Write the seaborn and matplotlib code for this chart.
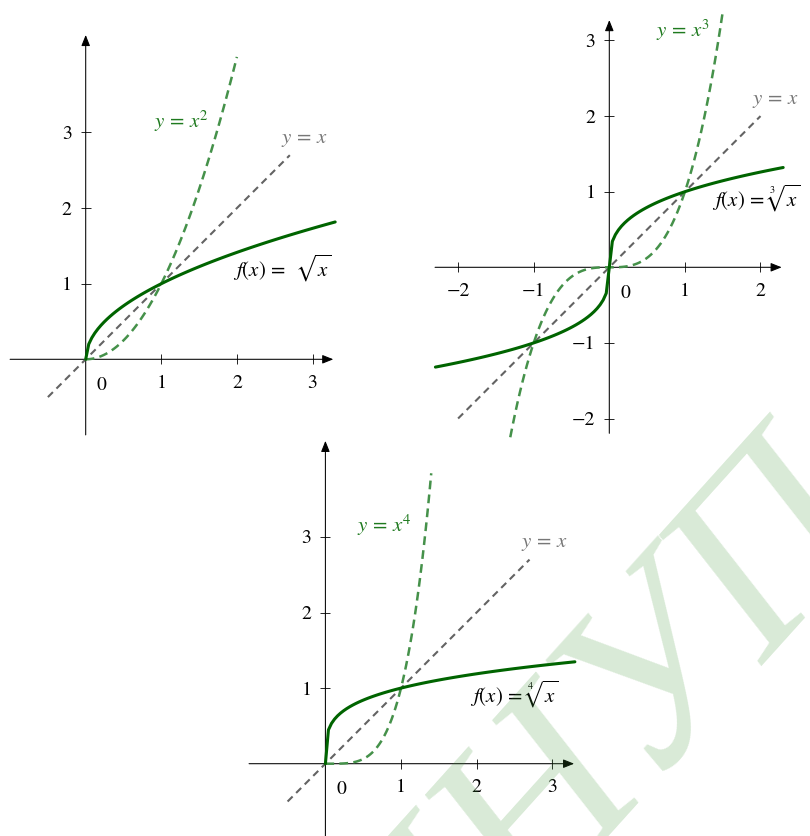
import numpy as np
import matplotlib
matplotlib.use("Agg")
import matplotlib.pyplot as plt
import seaborn as sns

# ---------------- data ----------------
# panel 1: f(x) = sqrt(x), y = x^2, y = x
p1_x_root = np.linspace(0, 3.3, 83)
p1_y_root = np.sqrt(p1_x_root)
p1_x_pow = np.linspace(0, 2.0, 60)
p1_y_pow = p1_x_pow ** 2
p1_x_id = np.array([-0.5, 2.7])
p1_y_id = np.array([-0.5, 2.7])

# panel 2: f(x) = cbrt(x), y = x^3, y = x
p2_x_root = np.linspace(-2.3, 2.3, 115)
p2_y_root = np.cbrt(p2_x_root)
p2_x_pow = np.linspace(-1.31, 1.5, 90)
p2_y_pow = p2_x_pow ** 3
p2_x_id = np.array([-2.0, 2.0])
p2_y_id = np.array([-2.0, 2.0])

# panel 3: f(x) = x^(1/4), y = x^4, y = x
p3_x_root = np.linspace(0, 3.3, 83)
p3_y_root = p3_x_root ** 0.25
p3_x_pow = np.linspace(0, 1.4, 60)
p3_y_pow = p3_x_pow ** 4
p3_x_id = np.array([-0.5, 2.7])
p3_y_id = np.array([-0.5, 2.7])

# ticks
p1_xticks = [1, 2, 3]
p1_yticks = [1, 2, 3]
p2_xticks = [-2, -1, 1, 2]
p2_yticks = [-2, -1, 1, 2, 3]
p3_xticks = [1, 2, 3]
p3_yticks = [1, 2, 3]
p1_xlabels = ["1", "2", "3"]
p1_ylabels = ["1", "2", "3"]
p2_xlabels = ["\u22122", "\u22121", "1", "2"]
p2_ylabels = ["\u22122", "\u22121", "1", "2", "3"]

# labels
root_labels = [r"$f(x)\,=\,\ \sqrt{x}$", r"$f(x)\,=\,\sqrt[3]{x}$", r"$f(x)\,=\,\sqrt[4]{x}$"]
pow_labels = [r"$y\,=\,x^2$", r"$y\,=\,x^3$", r"$y\,=\,x^4$"]
id_label = r"$y\,=\,x$"
watermark = "МНУП"

# ---------------- style ----------------
sns.set_theme(style="white")
plt.rcParams["font.family"] = ["STIXGeneral", "DejaVu Serif"]
plt.rcParams["mathtext.fontset"] = "stix"

SOLID = "#006400"
DASHG = "#45914a"
GRAY = "#636363"
LAB_G = "#1f7a1f"
LAB_GRAY = "#777777"
TICK_FS = 14.2
LAB_FS = 15

W, H = 810, 836
U = 75.6
fig = plt.figure(figsize=(W / 100, H / 100), dpi=100)
fig.patch.set_facecolor("white")


def make_ax(ox, oy, xlim, ylim):
    left = (ox + xlim[0] * U) / W
    width = (xlim[1] - xlim[0]) * U / W
    bottom = (H - oy + ylim[0] * U) / H
    height = (ylim[1] - ylim[0]) * U / H
    ax = fig.add_axes([left, bottom, width, height])
    ax.patch.set_alpha(0)
    return ax


def finish_ax(ax, xlim, ylim, xt, xl, yt, yl):
    ax.set_xlim(*xlim)
    ax.set_ylim(*ylim)
    ax.set_xlabel("")
    ax.set_ylabel("")
    for s in ax.spines.values():
        s.set_visible(False)
    ax.spines["bottom"].set_position(("data", 0))
    ax.spines["left"].set_position(("data", 0))
    ax.xaxis.set_ticks_position("bottom")
    ax.yaxis.set_ticks_position("left")
    ax.set_xticks(xt, xl)
    ax.set_yticks(yt, yl)
    ax.tick_params(direction="inout", length=7.2, width=0.6, color="black",
                   labelsize=TICK_FS, labelcolor="black")
    ax.tick_params(axis="x", pad=7.5)
    ax.tick_params(axis="y", pad=6.5)
    ap = dict(arrowstyle="-|>,head_length=0.55,head_width=0.22", lw=0.75,
              color="black", shrinkA=0, shrinkB=0)
    ax.annotate("", xy=(xlim[1], 0), xytext=(xlim[0], 0), arrowprops=ap,
                annotation_clip=False, zorder=1)
    ax.annotate("", xy=(0, ylim[1]), xytext=(0, ylim[0]), arrowprops=ap,
                annotation_clip=False, zorder=1)
    ax.text(0.21, -0.23, "0", ha="center", va="top", fontsize=TICK_FS, color="black")


def draw(ax, xr, yr, xp, yp, xi, yi):
    sns.lineplot(x=xi, y=yi, ax=ax, color=GRAY, linewidth=1.5,
                 linestyle=(0, (3.4, 2.4)), clip_on=False, zorder=2)
    sns.lineplot(x=xp, y=yp, ax=ax, color=DASHG, linewidth=1.8,
                 linestyle=(0, (3.5, 2.1)), clip_on=False, zorder=3)
    sns.lineplot(x=xr, y=yr, ax=ax, color=SOLID, linewidth=2.2,
                 clip_on=False, zorder=4)


# panel 1
lim1x, lim1y = (-1.0, 3.275), (-1.0, 4.29)
ax1 = make_ax(85.7, 359.3, lim1x, lim1y)
draw(ax1, p1_x_root, p1_y_root, p1_x_pow, p1_y_pow, p1_x_id, p1_y_id)
finish_ax(ax1, lim1x, lim1y, p1_xticks, p1_xlabels, p1_yticks, p1_ylabels)
ax1.text(1.27, 3.056, pow_labels[0], ha="center", va="baseline", fontsize=LAB_FS, color=LAB_G)
ax1.text(2.888, 2.857, id_label, ha="center", va="baseline", fontsize=LAB_FS, color=LAB_GRAY)
ax1.text(2.593, 1.10, root_labels[0], ha="center", va="baseline", fontsize=LAB_FS, color="black")

# panel 2
lim2x, lim2y = (-2.305, 2.28), (-2.196, 3.27)
ax2 = make_ax(609.3, 267.3, lim2x, lim2y)
draw(ax2, p2_x_root, p2_y_root, p2_x_pow, p2_y_pow, p2_x_id, p2_y_id)
finish_ax(ax2, lim2x, lim2y, p2_xticks, p2_xlabels, p2_yticks, p2_ylabels)
ax2.text(0.979, 3.05, pow_labels[1], ha="center", va="baseline", fontsize=LAB_FS, color=LAB_G)
ax2.text(2.19, 2.16, id_label, ha="center", va="baseline", fontsize=LAB_FS, color=LAB_GRAY)
ax2.text(1.354, 0.81, root_labels[1], ha="left", va="baseline", fontsize=LAB_FS, color="black")

# panel 3
lim3x, lim3y = (-1.01, 3.29), (-1.0, 4.27)
ax3 = make_ax(325.4, 763.7, lim3x, lim3y)
draw(ax3, p3_x_root, p3_y_root, p3_x_pow, p3_y_pow, p3_x_id, p3_y_id)
finish_ax(ax3, lim3x, lim3y, p3_xticks, p1_xlabels, p3_yticks, p1_ylabels)
ax3.text(0.782, 3.07, pow_labels[2], ha="center", va="baseline", fontsize=LAB_FS, color=LAB_G)
ax3.text(2.898, 2.86, id_label, ha="center", va="baseline", fontsize=LAB_FS, color=LAB_GRAY)
ax3.text(2.50, 0.81, root_labels[2], ha="center", va="baseline", fontsize=LAB_FS, color="black")

# watermark
fig.text(639.4 / W, 1 - 805.3 / H, watermark, rotation=48, rotation_mode="anchor",
         ha="center", va="baseline", fontsize=180, family="Liberation Serif",
         fontstyle="italic", color="#419637", alpha=0.2, zorder=10)

fig.savefig("out.png", dpi=100)
